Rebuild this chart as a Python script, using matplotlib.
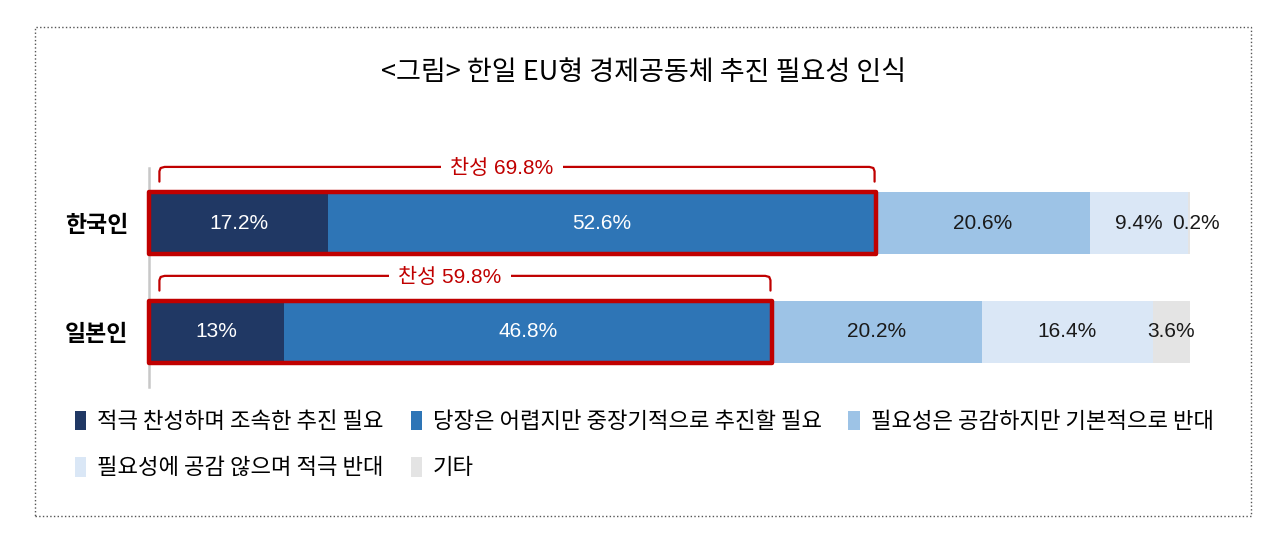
import matplotlib
matplotlib.use("Agg")
import matplotlib.pyplot as plt
from matplotlib.patches import Rectangle, Patch
import numpy as np

plt.rcParams['font.family'] = ['Noto Sans CJK KR', 'DejaVu Sans']

# 데이터
groups = ['한국인', '일본인']
categories = ['적극 찬성하며 조속한 추진 필요',
              '당장은 어렵지만 중장기적으로 추진할 필요',
              '필요성은 공감하지만 기본적으로 반대',
              '필요성에 공감 않으며 적극 반대',
              '기타']
values = {
    '한국인': [17.2, 52.6, 20.6, 9.4, 0.2],
    '일본인': [13, 46.8, 20.2, 16.4, 3.6],
}
value_labels = {
    '한국인': ['17.2%', '52.6%', '20.6%', '9.4%', '0.2%'],
    '일본인': ['13%', '46.8%', '20.2%', '16.4%', '3.6%'],
}
agree_labels = ['찬성 69.8%', '찬성 59.8%']

colors = ['#203864', '#2E75B6', '#9DC3E6', '#DAE7F6', '#E4E4E4']
text_colors = ['white', 'white', '#1a1a1a', '#1a1a1a', '#1a1a1a']
red = '#C00000'
num_font = ['Liberation Sans', 'Noto Sans CJK KR']

fig = plt.figure(figsize=(12.8, 5.4), dpi=100)
ax = fig.add_axes([149 / 1280, (540 - 387) / 540, 1041 / 1280, 219 / 540])

bar_h = 0.57
for i, g in enumerate(groups):
    left = 0
    for j, v in enumerate(values[g]):
        ax.barh(i, v, left=left, height=bar_h, color=colors[j], edgecolor='none')
        if v < 1:
            tx = left + v + 0.6
        else:
            tx = left + v / 2
        ax.text(tx, i, value_labels[g][j], ha='center', va='center',
                fontsize=15, color=text_colors[j], family=num_font)
        left += v

    # 찬성 합계 테두리
    agree = values[g][0] + values[g][1]
    ax.add_patch(Rectangle((0, i - bar_h / 2), agree, bar_h, fill=False,
                           edgecolor=red, linewidth=3.2, joinstyle='round',
                           clip_on=False, zorder=5))

    # 괄호
    yb = i - 0.515
    yh = i - 0.38
    x0, x1 = 1.0, agree - 0.1
    bx = [x0, x0, x0 + 0.12, x0 + 0.5, x1 - 0.5, x1 - 0.12, x1, x1]
    by = [yh, yb + 0.04, yb + 0.01, yb, yb, yb + 0.01, yb + 0.04, yh]
    ax.plot(bx, by, color=red, linewidth=1.6, clip_on=False, solid_capstyle='round')
    ax.text(agree / 2 - 1.0, yb + 0.01, agree_labels[i], ha='center', va='center',
            fontsize=15, color=red, family=num_font, clip_on=False,
            bbox=dict(boxstyle='square,pad=0.45', facecolor='white', edgecolor='none'))

ax.set_xlim(0, 100)
ax.set_ylim(1.505, -0.505)
ax.set_yticks(range(len(groups)))
ax.set_yticklabels(groups, fontsize=16.5, fontweight='bold')
ax.tick_params(axis='y', length=0, pad=15)
ax.set_xticks([])
for s in ['top', 'right', 'bottom']:
    ax.spines[s].set_visible(False)
ax.spines['left'].set_color('#C8C8C8')
ax.spines['left'].set_linewidth(1.8)

# 제목
fig.text(644 / 1280, 1 - 73 / 540, '<그림> 한일 EU형 경제공동체 추진 필요성 인식',
         ha='center', va='center', fontsize=19.5, fontweight='medium')

# 범례
handles = [Patch(facecolor=c, edgecolor='none') for c in colors]
order = [0, 3, 1, 4, 2]
fig.legend([handles[k] for k in order], [categories[k] for k in order],
           loc='upper left', bbox_to_anchor=(64 / 1280, 1 - 399 / 540),
           ncol=3, frameon=False, fontsize=16, borderpad=0,
           handlelength=0.5, handleheight=1.0, handletextpad=0.5,
           columnspacing=1.2, labelspacing=1.05)

# 점선 테두리
fig.patches.append(Rectangle((35 / 1280, (540 - 516) / 540), 1216 / 1280, 489 / 540,
                             transform=fig.transFigure, fill=False,
                             linestyle=':', linewidth=1, edgecolor='#555555'))

plt.savefig('out.png', dpi=100)
